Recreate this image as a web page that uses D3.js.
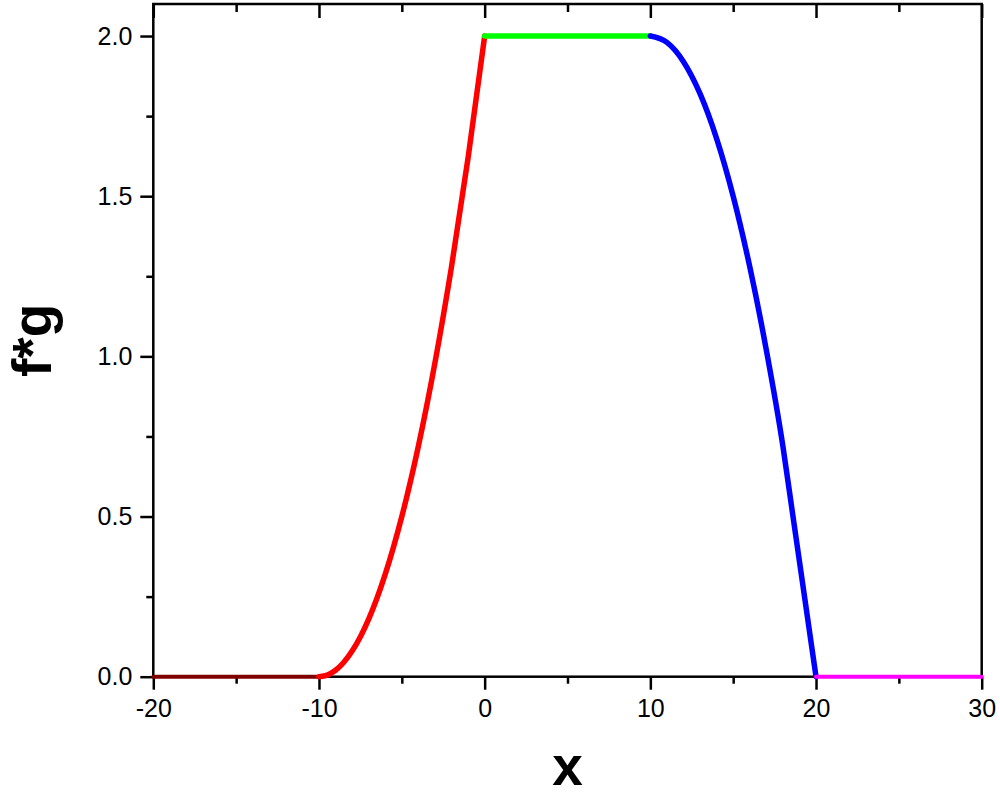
<!DOCTYPE html>
<html>
<head>
<meta charset="utf-8">
<script src="https://cdn.jsdelivr.net/npm/d3@7"></script>
<style>
  html, body { margin: 0; padding: 0; background: #fff; }
  svg { display: block; }
  .tick text { font-family: "Liberation Sans", Arial, sans-serif; font-size: 25px; fill: #000; }
</style>
</head>
<body>
<div id="chart"></div>
<script>
// pieces of f*g
const tailX = [-20, -15, -10];
const tailY = [0, 0, 0];
const riseX = [-10, -9.5, -9, -8.5, -8, -7.5, -7, -6.5, -6, -5, -4, -3, -2, -1, 0];
const riseY = [0, 0.005, 0.02, 0.045, 0.08, 0.125, 0.18, 0.245, 0.32, 0.5, 0.72, 0.98, 1.28, 1.62, 2.0];
const flatX = [0, 5, 10];
const flatY = [2.0, 2.0, 2.0];
const fallX = [10, 11, 12, 13, 14, 15, 16, 17, 18, 18.5, 19, 19.5, 20];
const fallY = [2.0, 1.98, 1.92, 1.82, 1.68, 1.5, 1.28, 1.02, 0.72, 0.54, 0.36, 0.18, 0];
const zeroX = [20, 25, 30];
const zeroY = [0, 0, 0];

const xMajor = [-20, -10, 0, 10, 20, 30];
const xMinor = [-15, -5, 5, 15, 25];
const yMajor = [0, 0.5, 1.0, 1.5, 2.0];
const yMinor = [0.25, 0.75, 1.25, 1.75];

const W = 1000, H = 797;
const plotL = 153.3, plotR = 981.7, plotT = 4, plotB = 676.7;

const svg = d3.select('#chart').append('svg')
  .attr('width', W).attr('height', H);

const x = d3.scaleLinear().domain([-20, 30]).range([plotL, plotR]);
const y = d3.scaleLinear().domain([0, 2.1]).range([plotB, plotT]);

const axisStroke = g => {
  g.select('.domain').remove();
  g.selectAll('.tick line').attr('stroke', '#000').attr('stroke-width', 2.5);
};

// left axis, outward ticks
svg.append('g').attr('transform', `translate(${plotL},0)`)
  .call(d3.axisLeft(y).tickValues(yMajor).tickSize(13).tickPadding(8).tickFormat(d => d.toFixed(1)))
  .call(axisStroke);
svg.append('g').attr('transform', `translate(${plotL},0)`)
  .call(d3.axisLeft(y).tickValues(yMinor).tickSize(7).tickFormat(''))
  .call(axisStroke);

// bottom axis, outward ticks (plain hyphen for the minus sign)
svg.append('g').attr('transform', `translate(0,${plotB})`)
  .call(d3.axisBottom(x).tickValues(xMajor).tickSize(13).tickPadding(10).tickFormat(d => String(d)))
  .call(axisStroke);
svg.append('g').attr('transform', `translate(0,${plotB})`)
  .call(d3.axisBottom(x).tickValues(xMinor).tickSize(7).tickFormat(''))
  .call(axisStroke);

// top axis, ticks pointing in, no labels
svg.append('g').attr('transform', `translate(0,${plotT})`)
  .call(d3.axisBottom(x).tickValues(xMajor).tickSize(14).tickFormat(''))
  .call(axisStroke);
svg.append('g').attr('transform', `translate(0,${plotT})`)
  .call(d3.axisBottom(x).tickValues(xMinor).tickSize(8).tickFormat(''))
  .call(axisStroke);

// frame
svg.append('rect')
  .attr('x', plotL).attr('y', plotT)
  .attr('width', plotR - plotL).attr('height', plotB - plotT)
  .attr('fill', 'none').attr('stroke', '#000').attr('stroke-width', 2.5);

const line = d3.line()
  .x(d => x(d[0])).y(d => y(d[1]))
  .curve(d3.curveMonotoneX);

const pieces = [
  { xs: tailX, ys: tailY, color: '#800000', w: 4 },
  { xs: riseX, ys: riseY, color: '#ff0000', w: 5.5 },
  { xs: flatX, ys: flatY, color: '#00ff00', w: 5.5 },
  { xs: fallX, ys: fallY, color: '#0000ff', w: 5.5 },
  { xs: zeroX, ys: zeroY, color: '#ff00ff', w: 4 }
];

svg.append('g').selectAll('path')
  .data(pieces)
  .join('path')
  .attr('d', p => line(d3.zip(p.xs, p.ys)))
  .attr('fill', 'none')
  .attr('stroke', p => p.color)
  .attr('stroke-width', p => p.w)
  .attr('stroke-linecap', 'round')
  .attr('stroke-linejoin', 'round');

// axis titles
svg.append('text')
  .attr('x', (plotL + plotR) / 2).attr('y', 785)
  .attr('text-anchor', 'middle')
  .style('font', 'bold 55px "Liberation Sans", Arial, sans-serif')
  .text('x');

svg.append('text')
  .attr('transform', `translate(51,${(plotT + plotB) / 2}) rotate(-90)`)
  .attr('text-anchor', 'middle')
  .style('font', 'bold 55px "Liberation Sans", Arial, sans-serif')
  .text('f*g');
</script>
</body>
</html>
